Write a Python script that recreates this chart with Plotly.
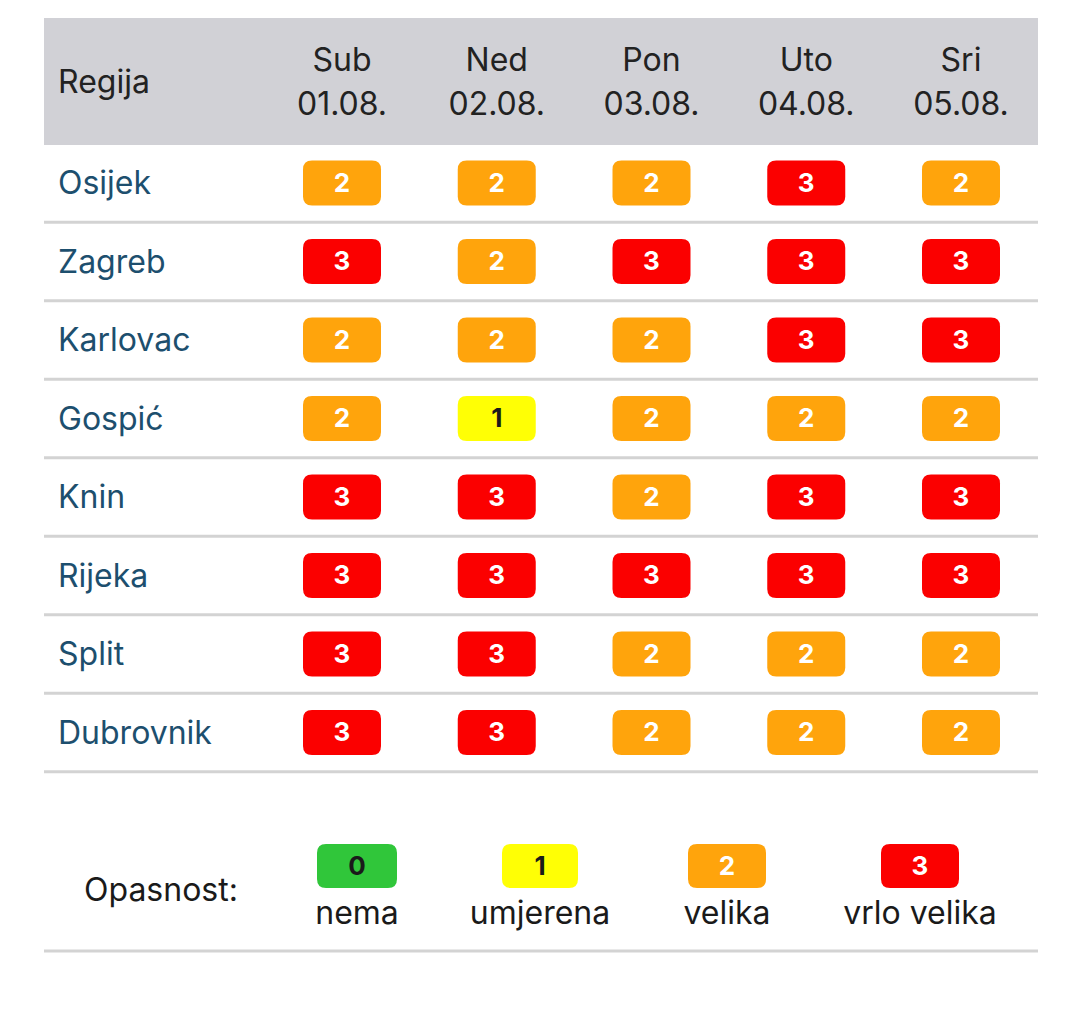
import plotly.graph_objects as go

# podaci
regions = ["Osijek", "Zagreb", "Karlovac", "Gospić", "Knin", "Rijeka", "Split", "Dubrovnik"]
days = ["Sub", "Ned", "Pon", "Uto", "Sri"]
dates = ["01.08.", "02.08.", "03.08.", "04.08.", "05.08."]
danger = [
    [2, 2, 2, 3, 2],
    [3, 2, 3, 3, 3],
    [2, 2, 2, 3, 3],
    [2, 1, 2, 2, 2],
    [3, 3, 2, 3, 3],
    [3, 3, 3, 3, 3],
    [3, 3, 2, 2, 2],
    [3, 3, 2, 2, 2],
]
legend_levels = [0, 1, 2, 3]
legend_labels = ["nema", "umjerena", "velika", "vrlo velika"]

level_colors = {0: "#30c63a", 1: "#ffff05", 2: "#ffa40c", 3: "#fb0000"}
level_text = {0: "#1a1a1a", 1: "#1a1a1a", 2: "#ffffff", 3: "#ffffff"}

FONT = "Inter"
W, H = 1080, 1010
PAGE_OFF = 8  # margina <body> stranice
TXT_DY = 3    # tekst se u plotlyju crta malo previsoko
# raspored (u pikselima, osi su postavljene 1:1)
LEFT, RIGHT = 44, 1038
COL_X0, COL_DX = 342, 154.75
ROW_Y0, ROW_DY = 183, 78.5
BADGE_W, BADGE_H, BADGE_R = 78, 45, 9
LEG_X = [357, 540, 727, 920]  # sredine stavki legende
LEG_W = [80, 76, 78, 78]
LEG_BADGE_Y, LEG_LABEL_Y = 866, 913


def col_x(i):
    return COL_X0 + i * COL_DX


def row_y(r):
    return ROW_Y0 + r * ROW_DY


def badge_path(cx, cy, w, h, r):
    x0, x1 = cx - w / 2, cx + w / 2
    y0, y1 = cy - h / 2, cy + h / 2
    return (f"M{x0 + r},{y0} L{x1 - r},{y0} Q{x1},{y0} {x1},{y0 + r} "
            f"L{x1},{y1 - r} Q{x1},{y1} {x1 - r},{y1} L{x0 + r},{y1} "
            f"Q{x0},{y1} {x0},{y1 - r} L{x0},{y0 + r} Q{x0},{y0} {x0 + r},{y0} Z")


shapes = []
# zaglavlje
shapes.append(dict(type="rect", xref="x", yref="y", x0=LEFT, x1=RIGHT, y0=18, y1=145,
                   fillcolor="#d1d1d6", line_width=0, layer="below"))
# linije ispod redaka
for r in range(len(regions)):
    y = row_y(r) + ROW_DY / 2
    shapes.append(dict(type="line", xref="x", yref="y", x0=LEFT, x1=RIGHT, y0=y, y1=y,
                       line=dict(color="#d3d3d3", width=3), layer="below"))
shapes.append(dict(type="line", xref="x", yref="y", x0=LEFT, x1=RIGHT, y0=951, y1=951,
                   line=dict(color="#d3d3d3", width=3), layer="below"))

bx, by, btxt, bcol = [], [], [], []
for r, row in enumerate(danger):
    for c, lvl in enumerate(row):
        cx, cy = col_x(c), row_y(r)
        shapes.append(dict(type="path", xref="x", yref="y", path=badge_path(cx, cy, BADGE_W, BADGE_H, BADGE_R),
                           fillcolor=level_colors[lvl], line_width=0, layer="below"))
        bx.append(cx)
        by.append(cy + 2)
        btxt.append(str(lvl))
        bcol.append(level_text[lvl])

for x, w, lvl in zip(LEG_X, LEG_W, legend_levels):
    shapes.append(dict(type="path", xref="x", yref="y", path=badge_path(x, LEG_BADGE_Y, w, 44, BADGE_R),
                       fillcolor=level_colors[lvl], line_width=0, layer="below"))

fig = go.Figure()

# brojevi u oznakama
fig.add_trace(go.Scatter(x=bx, y=by, mode="text", text=btxt,
                         textfont=dict(family=FONT, size=26, color=bcol, weight="bold")))
fig.add_trace(go.Scatter(x=LEG_X, y=[LEG_BADGE_Y + 2] * len(LEG_X), mode="text",
                         text=[str(v) for v in legend_levels],
                         textfont=dict(family=FONT, size=26, color=[level_text[v] for v in legend_levels],
                                       weight="bold")))
# regije
fig.add_trace(go.Scatter(x=[58] * len(regions), y=[row_y(r) + TXT_DY for r in range(len(regions))],
                         mode="text", text=regions, textposition="middle right",
                         textfont=dict(family=FONT, size=32, color="#1d4f6e")))
# zaglavlje
fig.add_trace(go.Scatter(x=[58], y=[82 + TXT_DY], mode="text", text=["Regija"], textposition="middle right",
                         textfont=dict(family=FONT, size=32, color="#222222")))
fig.add_trace(go.Scatter(x=[col_x(i) for i in range(len(days))], y=[60 + TXT_DY] * len(days), mode="text",
                         text=days, textfont=dict(family=FONT, size=32, color="#222222")))
fig.add_trace(go.Scatter(x=[col_x(i) for i in range(len(dates))], y=[104 + TXT_DY] * len(dates), mode="text",
                         text=dates, textfont=dict(family=FONT, size=32, color="#222222")))
# legenda
fig.add_trace(go.Scatter(x=[84], y=[890 + TXT_DY], mode="text", text=["Opasnost:"], textposition="middle right",
                         textfont=dict(family=FONT, size=32, color="#1a1a1a")))
fig.add_trace(go.Scatter(x=LEG_X, y=[LEG_LABEL_Y + TXT_DY] * len(LEG_X), mode="text", text=legend_labels,
                         textfont=dict(family=FONT, size=32, color="#1a1a1a")))

fig.update_layout(
    width=W, height=H, margin=dict(l=0, r=0, t=0, b=0),
    paper_bgcolor="white", plot_bgcolor="white", showlegend=False,
    shapes=shapes, hovermode=False,
)
fig.update_xaxes(range=[PAGE_OFF, W + PAGE_OFF], visible=False, fixedrange=True)
fig.update_yaxes(range=[H + PAGE_OFF, PAGE_OFF], visible=False, fixedrange=True)

fig.write_html("out.html")
